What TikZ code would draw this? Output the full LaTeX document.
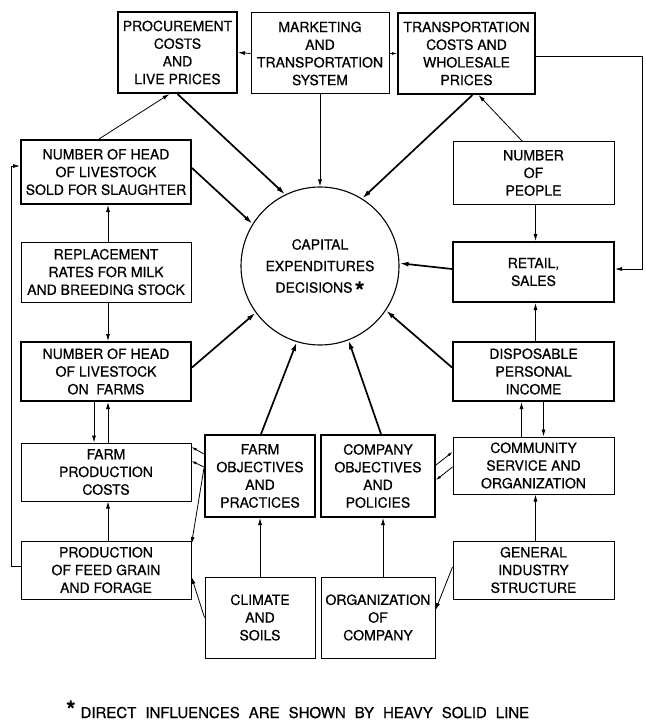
\documentclass[tikz,border=0pt]{standalone}
\usepackage{fontspec}
\setmainfont[FakeBold=0.6]{TeX Gyre Heros}
\usepackage{tikz}
\usetikzlibrary{arrows.meta}
\newcommand{\lbl}{\fontsize{14}{17.7}\selectfont}

\begin{document}
\begin{tikzpicture}[x=1pt,y=-1pt,
box/.style={draw,line width=1pt,inner sep=0pt,align=center,font=\lbl},
heavybox/.style={box,line width=2pt},
bsize/.style 2 args={minimum width=#1pt,minimum height=#2pt},
thinarr/.style={line width=0.8pt,-{Latex[length=7pt,width=4pt]}},
smallarr/.style={line width=0.8pt,-{Latex[length=5pt,width=3pt]}},
heavyarr/.style={line width=1.7pt,-{Latex[length=9pt,width=5pt]}}]
\useasboundingbox (0,0) rectangle (645,722);
\node (proc) at (177.5,52.5)[heavybox,bsize={119}{81}] {PROCUREMENT\\COSTS\\AND\\LIVE PRICES};
\node (mkt) at (320,53.5)[box,bsize={138}{81}] {MARKETING\\AND\\TRANSPORTATION\\SYSTEM};
\node (trans) at (466.5,53.5)[heavybox,bsize={137}{81}] {TRANSPORTATION\\COSTS AND\\WHOLESALE\\PRICES};
\node (sold) at (106,172)[heavybox,bsize={170}{64}] {NUMBER OF HEAD\\OF LIVESTOCK\\SOLD FOR SLAUGHTER};
\node (repl) at (106,272)[box,bsize={170}{60}] {REPLACEMENT\\RATES FOR MILK\\AND BREEDING STOCK};
\node (farms) at (106,371.5)[heavybox,bsize={170}{59}] {NUMBER OF HEAD\\OF LIVESTOCK\\ON\ \ FARMS};
\node (fpc) at (106,472)[box,bsize={170}{58}] {FARM\\PRODUCTION\\COSTS};
\node (feed) at (106,570)[box,bsize={170}{58}] {PRODUCTION\\OF FEED GRAIN\\AND FORAGE};
\node (circ) at (320,266)[circle,draw,line width=1.1pt,minimum size=158pt,inner sep=0pt,align=center,font=\fontsize{14}{21.5}\selectfont] {CAPITAL\\EXPENDITURES\\DECISIONS\,\raisebox{-7pt}[0pt][0pt]{\fontsize{25}{25}\selectfont\bfseries *}};
\node (fobj) at (260,476)[heavybox,bsize={110}{82}] {FARM\\OBJECTIVES\\AND\\PRACTICES};
\node (cobj) at (378,476)[heavybox,bsize={114}{82}] {COMPANY\\OBJECTIVES\\AND\\POLICIES};
\node (clim) at (260,617.5)[box,bsize={110}{81}] {CLIMATE\\AND\\SOILS};
\node (org) at (378,617.5)[box,bsize={114}{81}] {ORGANIZATION\\OF\\COMPANY};
\node (people) at (533.5,173)[box,bsize={161}{62}] {NUMBER\\OF\\PEOPLE};
\node (retail) at (533.5,272)[heavybox,bsize={161}{60}] {RETAIL,\\SALES};
\node (dpi) at (533.5,371.5)[heavybox,bsize={161}{59}] {DISPOSABLE\\PERSONAL\\INCOME};
\node (comm) at (533.5,465.5)[box,bsize={161}{57}] {COMMUNITY\\SERVICE AND\\ORGANIZATION};
\node (gen) at (533.5,570)[box,bsize={161}{58}] {GENERAL\\INDUSTRY\\STRUCTURE};
\node (note) at (66,718)[anchor=base west,inner sep=0pt,font=\fontsize{15}{18}\selectfont] {{\fontsize{24}{24}\selectfont\bfseries *}\hspace{5pt}{\spaceskip=9pt DIRECT INFLUENCES ARE SHOWN BY HEAVY SOLID LINE}};
\draw[thinarr] ([xshift=-7pt]sold.north) -- ([xshift=-8pt]proc.south);
\draw[heavyarr] (proc.south) -- (circ.116);
\draw[thinarr] (mkt.south) -- (circ.north);
\draw[heavyarr] ([xshift=6pt]trans.south) -- (circ.58);
\draw[thinarr] ([xshift=-11pt]people.north) -- ([xshift=12pt]trans.south);
\draw[thinarr] (mkt.west) -- (proc.east);
\draw[smallarr] (mkt.east) -- (trans.west);
\draw[thinarr] ([yshift=-2.5pt]trans.east) -| ([xshift=27pt,yshift=3pt]retail.east) -- ([yshift=3pt]retail.east);
\draw[heavyarr] ([yshift=4pt]sold.east) -- (circ.148);
\draw[thinarr] ([xshift=2pt]repl.north) -- ([xshift=2pt]sold.south);
\draw[thinarr] ([xshift=2pt]repl.south) -- ([xshift=2pt]farms.north);
\draw[heavyarr] ([yshift=4pt]farms.east) -- (circ.216);
\draw[thinarr] ([xshift=-12pt]farms.south) -- ([xshift=-12pt]fpc.north);
\draw[thinarr] ([xshift=2pt]fpc.north) -- ([xshift=2pt]farms.south);
\draw[thinarr] ([xshift=2pt]feed.north) -- ([xshift=2pt]fpc.south);
\draw[thinarr] ([yshift=4pt]feed.west) -- ++(-9,0) |- ([yshift=6pt]sold.west);
\draw[heavyarr] ([xshift=1pt]fobj.north) -- (circ.253);
\draw[heavyarr] ([xshift=3pt]cobj.north) -- (circ.291);
\draw[thinarr] (clim.north) -- (fobj.south);
\draw[thinarr] ([xshift=5pt]org.north) -- ([xshift=5pt]cobj.south);
\draw[smallarr] ([yshift=22pt]fobj.west) -- ([yshift=25pt]fpc.east);
\draw[smallarr] ([yshift=9pt]fobj.west) -- ([yshift=11pt]fpc.east);
\draw[thinarr] ([yshift=8pt]fobj.west) -- ([yshift=26pt]feed.east);
\draw[thinarr] (clim.west) -- ([yshift=-7pt]feed.east);
\draw[smallarr] ([yshift=11pt]cobj.east) -- ([yshift=13.5pt]comm.west);
\draw[smallarr] ([yshift=-1.5pt]comm.west) -- ([yshift=-4pt]cobj.east);
\draw[thinarr] ([yshift=3pt]gen.west) -- ([yshift=7.5pt]org.east);
\draw[thinarr] ([xshift=2pt]people.south) -- ([xshift=2pt]retail.north);
\draw[heavyarr] ([yshift=3pt]retail.west) -- (circ.2);
\draw[thinarr] ([xshift=2pt]dpi.north) -- ([xshift=2pt]retail.south);
\draw[heavyarr] ([yshift=4pt]dpi.west) -- (circ.326);
\draw[thinarr] ([xshift=-12pt]comm.north) -- ([xshift=-12pt]dpi.south);
\draw[thinarr] ([xshift=10pt]dpi.south) -- ([xshift=10pt]comm.north);
\draw[thinarr] ([xshift=2pt]gen.north) -- ([xshift=2pt]comm.south);
\end{tikzpicture}
\end{document}
